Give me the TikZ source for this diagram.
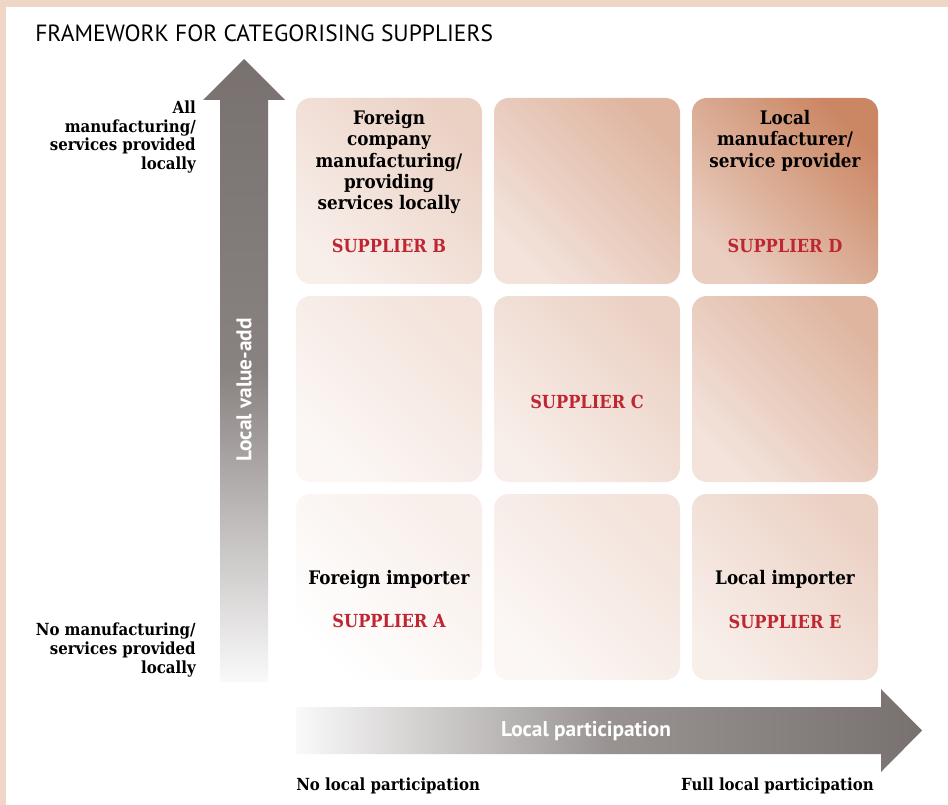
\documentclass[tikz,border=0pt]{standalone}
\usepackage{fontspec}
\setmainfont{DejaVu Serif Condensed}
\newfontfamily\sansfont{PT Sans}
\usepackage{tikz}
\usetikzlibrary{positioning}

\definecolor{peach}{RGB}{200,128,92}
\definecolor{framepeach}{RGB}{240,214,199}
\definecolor{supred}{RGB}{190,38,50}
\definecolor{axisgray}{RGB}{120,113,111}

\begin{document}
\begin{tikzpicture}[x=0.75pt,y=-0.75pt,
    cell/.style 2 args={rounded corners=11pt,minimum width=139.5pt,minimum height=139.5pt,
      inner sep=0pt,outer sep=0pt,bottom color=peach!#1!white,top color=peach!#2!white,
      shading angle=-45},
    boxtext/.style={font=\bfseries\fontsize{14}{16}\selectfont,align=center,inner sep=0pt},
    supplier/.style={font=\bfseries\fontsize{13.5}{16}\selectfont,text=supred,inner sep=0pt},
    sidetext/.style={font=\bfseries\fontsize{12.5}{13.9}\selectfont,align=right,inner sep=0pt},
    axistext/.style={font=\sansfont\bfseries\fontsize{16}{18}\selectfont,text=white,inner sep=0pt}
  ]
      \useasboundingbox (0,0) rectangle (948,805);
      \fill[framepeach] (0,0) rectangle (948,805);
      \fill[white] (6,7) rectangle (948,805);

      \node[anchor=base west,inner sep=0pt,font=\sansfont\fontsize{17.6}{20}\selectfont] (title) at (35,42)
        {FRAMEWORK FOR CATEGORISING SUPPLIERS};

      % cell centres
      \coordinate (b) at (389,191);
      \coordinate (tm) at (587,191);
      \coordinate (d) at (785,191);
      \coordinate (lm) at (389,389);
      \coordinate (c) at (587,389);
      \coordinate (rm) at (785,389);
      \coordinate (a) at (389,587);
      \coordinate (bm) at (587,587);
      \coordinate (e) at (785,587);

      \node[cell={0}{13}] (an) at (a) {};
      \node[cell={6}{22}] (bmn) at (bm) {};
      \node[cell={13}{36}] (en) at (e) {};
      \node[cell={6}{22}] (lmn) at (lm) {};
      \node[cell={13}{36}] (cn) at (c) {};
      \node[cell={22}{58}] (rmn) at (rm) {};
      \node[cell={13}{36}] (bn) at (b) {};
      \node[cell={22}{58}] (tmn) at (tm) {};
      \node[cell={38}{95}] (dn) at (d) {};

      \node[boxtext,anchor=north] (tb) at (389,110) {Foreign\\company\\manufacturing/\\providing\\services locally};
      \node[supplier,anchor=base] (sb) at (389,253) {SUPPLIER B};
      \node[boxtext,anchor=north] (td) at (785,110) {Local\\manufacturer/\\service provider};
      \node[supplier,anchor=base] (sd) at (785,253) {SUPPLIER D};
      \node[supplier,anchor=base] (sc) at (587,408) {SUPPLIER C};
      \node[boxtext,anchor=base] (ta) at (389,584) {Foreign importer};
      \node[supplier,anchor=base] (sa) at (389,627) {SUPPLIER A};
      \node[boxtext,anchor=base] (te) at (785,584) {Local importer};
      \node[supplier,anchor=base] (se) at (785,628) {SUPPLIER E};

      % axes
      \shade[top color=axisgray,bottom color=axisgray!4!white,middle color=axisgray!88!white]
        (220,682) -- (220,100) -- (203,100) -- (244,59) -- (285,100) -- (268,100) -- (268,682) -- cycle;
      \shade[left color=axisgray!4!white,right color=axisgray,middle color=axisgray!76!white]
        (296,707) -- (881,707) -- (881,689) -- (922,730.5) -- (881,772) -- (881,754) -- (296,754) -- cycle;

      \node[axistext,rotate=90] (vlab) at (244,390) {Local value-add};
      \node[axistext] (hlab) at (586,731) {Local participation};

      \node[sidetext,anchor=north east] (hi) at (196,101) {All\\manufacturing/\\services provided\\locally};
      \node[sidetext,anchor=north east] (lo) at (196,623) {No manufacturing/\\services provided\\locally};
      \node[sidetext,anchor=base west] (nolp) at (296,790) {No local participation};
      \node[sidetext,anchor=base east] (fulllp) at (874,790) {Full local participation};
    \end{tikzpicture}
\end{document}
